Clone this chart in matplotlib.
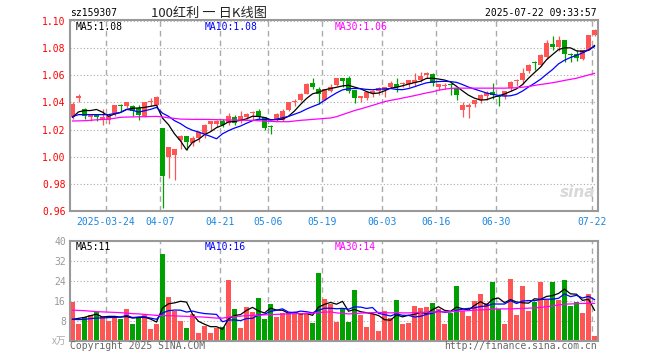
import numpy as np
import pandas as pd
import matplotlib
matplotlib.use('Agg')
import matplotlib.pyplot as plt
from matplotlib.transforms import blended_transform_factory

# ---------------- data ----------------
opens = [1.029, 1.043, 1.035, 1.029, 1.031, 1.028, 1.027, 1.032, 1.038, 1.037,
         1.0375, 1.036, 1.030, 1.040, 1.038, 1.021, 1.000, 1.001, 1.012, 1.015,
         1.010, 1.014, 1.017, 1.024, 1.024, 1.026, 1.025, 1.029, 1.026, 1.0295,
         1.032, 1.034, 1.029, 1.0227, 1.027, 1.027, 1.0345, 1.040, 1.042, 1.046,
         1.0545, 1.0497, 1.042, 1.0487, 1.0528, 1.058, 1.058, 1.049, 1.0435, 1.0435,
         1.0467, 1.0487, 1.0492, 1.0516, 1.0534, 1.0534, 1.0536, 1.0541, 1.0566, 1.060,
         1.061, 1.0514, 1.0519, 1.053, 1.0509, 1.0344, 1.0365, 1.0387, 1.0419, 1.0446,
         1.048, 1.0448, 1.0448, 1.0505, 1.0554, 1.0566, 1.0628, 1.0695, 1.0672, 1.0734,
         1.0832, 1.0807, 1.0862, 1.0751, 1.0756, 1.0721, 1.0788, 1.0898]
highs = [1.040, 1.046, 1.036, 1.031, 1.031, 1.035, 1.031, 1.038, 1.039, 1.040,
         1.038, 1.038, 1.040, 1.043, 1.045, 1.021, 1.007, 1.006, 1.016, 1.015,
         1.015, 1.019, 1.024, 1.026, 1.027, 1.028, 1.032, 1.031, 1.034, 1.0325,
         1.034, 1.035, 1.029, 1.023, 1.0325, 1.035, 1.040, 1.0425, 1.047, 1.054,
         1.058, 1.051, 1.050, 1.0534, 1.058, 1.058, 1.0597, 1.049, 1.045, 1.048,
         1.0492, 1.0511, 1.0511, 1.0558, 1.058, 1.0548, 1.0566, 1.0615, 1.0625, 1.0622,
         1.062, 1.0536, 1.0541, 1.0541, 1.0509, 1.040, 1.0394, 1.0419, 1.0463, 1.0485,
         1.0542, 1.0463, 1.0485, 1.0554, 1.0571, 1.0652, 1.068, 1.0702, 1.0756, 1.0857,
         1.0891, 1.0891, 1.0862, 1.0763, 1.0788, 1.0788, 1.090, 1.094]
lows = [1.028, 1.040, 1.028, 1.0265, 1.026, 1.023, 1.024, 1.030, 1.034, 1.036,
        1.030, 1.027, 1.029, 1.037, 1.037, 0.962, 0.984, 0.983, 1.006, 1.005,
        1.008, 1.011, 1.014, 1.019, 1.022, 1.022, 1.023, 1.023, 1.025, 1.028,
        1.027, 1.028, 1.020, 1.017, 1.026, 1.026, 1.034, 1.037, 1.041, 1.046,
        1.0497, 1.039, 1.0415, 1.048, 1.052, 1.0516, 1.0472, 1.0393, 1.040, 1.0418,
        1.0443, 1.0455, 1.0443, 1.0504, 1.048, 1.0516, 1.051, 1.0521, 1.0553, 1.0578,
        1.0521, 1.0492, 1.0497, 1.0455, 1.0418, 1.029, 1.0283, 1.0365, 1.0394, 1.0419,
        1.0424, 1.0375, 1.0428, 1.0487, 1.0522, 1.0537, 1.062, 1.0635, 1.0665, 1.0721,
        1.0783, 1.0775, 1.0694, 1.0694, 1.0702, 1.0714, 1.0785, 1.0891]
closes = [1.039, 1.045, 1.030, 1.031, 1.029, 1.029, 1.030, 1.038, 1.037, 1.040,
          1.0335, 1.031, 1.040, 1.041, 1.044, 0.986, 1.007, 1.006, 1.015, 1.011,
          1.014, 1.018, 1.023, 1.026, 1.026, 1.023, 1.030, 1.025, 1.030, 1.0315,
          1.0325, 1.029, 1.0215, 1.022, 1.0315, 1.034, 1.040, 1.041, 1.046, 1.0535,
          1.051, 1.046, 1.0497, 1.051, 1.058, 1.056, 1.0484, 1.043, 1.0447, 1.048,
          1.0484, 1.0504, 1.0511, 1.0546, 1.0511, 1.0541, 1.0565, 1.0566, 1.0598, 1.0615,
          1.0546, 1.0536, 1.0529, 1.0526, 1.0455, 1.0378, 1.0378, 1.0419, 1.0456, 1.0469,
          1.0456, 1.0443, 1.0485, 1.0549, 1.0566, 1.0615, 1.0677, 1.0692, 1.0751, 1.0837,
          1.0805, 1.0862, 1.0756, 1.0749, 1.0726, 1.0788, 1.0898, 1.0935]
volumes = [15.4, 6.6, 9.3, 10.1, 11.4, 9.7, 8.0, 9.3, 8.6, 12.6,
           6.6, 9.0, 10.1, 4.8, 6.6, 34.9, 17.4, 11.9, 8.0, 5.0,
           10.6, 3.1, 6.0, 3.1, 5.0, 5.3, 24.2, 12.6, 5.0, 13.4,
           11.4, 17.0, 8.6, 14.6, 9.6, 10.9, 10.9, 10.9, 10.9, 10.9,
           7.0, 27.3, 16.6, 14.7, 7.4, 12.7, 7.4, 20.2, 10.2, 5.4,
           10.6, 3.8, 11.9, 9.0, 16.2, 6.6, 7.0, 13.8, 13.0, 13.4,
           15.0, 12.7, 6.6, 11.0, 21.8, 11.8, 10.0, 15.9, 18.6, 15.0,
           23.4, 12.5, 6.6, 24.7, 10.2, 21.8, 11.8, 15.4, 23.4, 16.2,
           23.4, 16.2, 24.2, 13.8, 15.4, 11.0, 18.6, 2.0]
# 30-day averages (window reaches before the visible range)
ma30_price = [1.0263, 1.0264, 1.0265, 1.0268, 1.0272, 1.0274, 1.0277, 1.0283, 1.029, 1.0292,
              1.0293, 1.0294, 1.0295, 1.0296, 1.0297, 1.0293, 1.0287, 1.0282, 1.0277, 1.0276,
              1.0275, 1.0275, 1.0275, 1.0274, 1.0273, 1.0272, 1.027, 1.027, 1.0269, 1.0268,
              1.0268, 1.0265, 1.0262, 1.026, 1.0258, 1.0258, 1.0258, 1.0263, 1.0268, 1.0271,
              1.0275, 1.0278, 1.0282, 1.0285, 1.0295, 1.031, 1.0325, 1.034, 1.0352, 1.0365,
              1.0378, 1.0392, 1.0405, 1.0415, 1.0423, 1.0432, 1.0441, 1.045, 1.046, 1.047,
              1.0478, 1.049, 1.0497, 1.0503, 1.0505, 1.0505, 1.0505, 1.0505, 1.0505, 1.0505,
              1.0505, 1.0505, 1.0505, 1.0506, 1.0508, 1.0512, 1.0517, 1.0525, 1.0532, 1.0538,
              1.0545, 1.0553, 1.0562, 1.057, 1.0578, 1.059, 1.0602, 1.0614]
ma30_vol = [12.2, 12.1, 12.0, 11.8, 11.6, 11.5, 11.4, 11.3, 11.2, 11.0,
            10.8, 10.7, 10.5, 10.3, 10.1, 10.0, 10.0, 9.9, 9.8, 9.7,
            9.6, 9.5, 9.4, 9.2, 9.0, 9.0, 9.4, 9.6, 9.8, 10.0,
            10.1, 10.2, 10.3, 10.4, 10.5, 10.6, 10.7, 10.8, 10.8, 10.9,
            11.0, 11.2, 11.4, 11.5, 11.1, 10.9, 10.7, 10.8, 11.0, 11.1,
            11.2, 11.3, 11.2, 11.1, 11.2, 11.1, 11.1, 11.2, 11.3, 11.4,
            11.4, 11.5, 11.5, 11.6, 11.7, 11.9, 12.0, 12.2, 12.3, 12.4,
            12.6, 12.7, 12.7, 12.7, 12.8, 12.9, 13.0, 13.1, 13.3, 13.6,
            13.9, 14.3, 14.6, 14.7, 14.8, 14.9, 14.9, 14.9]
# leading moving-average values (need data before the window)
ma5_price_head = [1.029, 1.033, 1.034, 1.034]
ma10_price_head = [1.0295, 1.031, 1.031, 1.031, 1.031, 1.031, 1.031, 1.0318, 1.0326]
ma5_vol_head = [8.5, 8.9, 9.3, 10.0]
ma10_vol_head = [8.5, 8.4, 8.5, 8.8, 9.0, 9.1, 9.2, 9.3, 9.4]

date_labels = ['2025-03-24', '04-07', '04-21', '05-06', '05-19', '06-03', '06-16', '06-30', '07-22']
date_index = [6, 15, 25, 33, 42, 52, 61, 71, 87]
price_ticks = [0.96, 0.98, 1.00, 1.02, 1.04, 1.06, 1.08, 1.10]
vol_ticks = [8, 16, 24, 32, 40]
price_legend = ['MA5:1.08', 'MA10:1.08', 'MA30:1.06']
vol_legend = ['MA5:11', 'MA10:16', 'MA30:14']
code_text = 'sz159307'
title_text = '100红利 一 日K线图'
time_text = '2025-07-22 09:33:57'

# ---------------- derived ----------------
o = np.array(opens); h = np.array(highs); l = np.array(lows); c = np.array(closes)
v = np.array(volumes)
n = len(c)
x = np.arange(n)
ma5 = pd.Series(c).rolling(5).mean().to_numpy(); ma5[:4] = ma5_price_head
ma10 = pd.Series(c).rolling(10).mean().to_numpy(); ma10[:9] = ma10_price_head
vma5 = pd.Series(v).rolling(5).mean().to_numpy(); vma5[:4] = ma5_vol_head
vma10 = pd.Series(v).rolling(10).mean().to_numpy(); vma10[:9] = ma10_vol_head

RED = '#ff5555'
GREEN = '#00a000'
GRID = '#aaaaaa'
FRAME = '#999999'
MONO = 'DejaVu Sans Mono'
colors = np.where(c >= o, RED, GREEN)

W, H = 660, 360
def fx(px): return px / W
def fy(py): return 1 - py / H

fig = plt.figure(figsize=(6.6, 3.6), dpi=100)
fig.patch.set_facecolor('white')
axp = fig.add_axes([fx(70), fy(211), 528 / W, 191 / H])
axv = fig.add_axes([fx(70), fy(340.5), 528 / W, 100 / H])

xlim = (-0.42, n - 0.42)
grid_off = -0.4

for ax in (axp, axv):
    ax.set_xlim(*xlim)
    for s in ax.spines.values():
        s.set_color(FRAME)
        s.set_linewidth(1.5)
    ax.set_xticks([])
    ax.tick_params(axis='y', length=0, pad=3)
    for di in date_index:
        ax.axvline(di + grid_off, color=GRID, lw=1.0, ls=(0, (4, 3)), zorder=0.5)

# price panel
axp.set_ylim(0.96, 1.1007)
for t in price_ticks:
    axp.axhline(t, color=GRID, lw=0.8, ls=(0, (1, 2)), zorder=0.5)
axp.set_yticks(price_ticks)
axp.set_yticklabels([f'{t:.2f}' for t in price_ticks], color='red', fontsize=7, family=MONO)

axp.vlines(x, l, h, colors=colors, lw=0.9, zorder=2)
body_bottom = np.minimum(o, c)
body_h = np.maximum(np.abs(c - o), 0.0006)
axp.bar(x, body_h, bottom=body_bottom, width=0.8, color=colors, linewidth=0, zorder=2)
axp.plot(x, ma5, color='black', lw=0.9, zorder=3)
axp.plot(x, ma10, color='#0000ff', lw=0.9, zorder=3)
axp.plot(x, ma30_price, color='#ff00ff', lw=0.9, zorder=3)

trans = blended_transform_factory(axp.transData, axp.transAxes)
for di, lab in zip(date_index, date_labels):
    axp.text(di + grid_off, -10.7 / 191, lab, transform=trans, ha='center', va='center',
             color='#1a87e0', fontsize=7, family=MONO)

axp.text(0.01, 0.965, price_legend[0], transform=axp.transAxes, color='black', fontsize=7, family=MONO, va='center')
axp.text((205 - 70) / 528, 0.965, price_legend[1], transform=axp.transAxes, color='#0000ff', fontsize=7, family=MONO, va='center')
axp.text((335 - 70) / 528, 0.965, price_legend[2], transform=axp.transAxes, color='#ff00ff', fontsize=7, family=MONO, va='center')
axp.text(0.995, 0.06, 'sina', transform=axp.transAxes, ha='right', va='bottom', color='#d8d8d8',
         fontsize=11, fontweight='bold', style='italic', family='DejaVu Sans', zorder=1)

# volume panel
axv.set_ylim(0, 40.2)
for t in vol_ticks[:-1]:
    axv.axhline(t, color=GRID, lw=0.8, ls=(0, (1, 2)), zorder=0.5)
axv.set_yticks(vol_ticks)
axv.set_yticklabels([str(t) for t in vol_ticks], color='#999999', fontsize=7, family=MONO)
axv.bar(x, v, width=0.8, color=colors, linewidth=0, zorder=2)
axv.plot(x, vma5, color='black', lw=0.9, zorder=3)
axv.plot(x, vma10, color='#0000ff', lw=0.9, zorder=3)
axv.plot(x, ma30_vol, color='#ff00ff', lw=0.9, zorder=3)
axv.text(0.01, 0.93, vol_legend[0], transform=axv.transAxes, color='black', fontsize=7, family=MONO, va='center')
axv.text((205 - 70) / 528, 0.93, vol_legend[1], transform=axv.transAxes, color='#0000ff', fontsize=7, family=MONO, va='center')
axv.text((335 - 70) / 528, 0.93, vol_legend[2], transform=axv.transAxes, color='#ff00ff', fontsize=7, family=MONO, va='center')

# header / footer texts
fig.text(fx(70), fy(13), code_text, fontsize=7, family=MONO, color='black', va='center', ha='left')
fig.text(fx(209), fy(13), title_text, fontsize=9.5, family=['Noto Sans CJK SC', 'DejaVu Sans'],
         color='#222222', va='center', ha='center')
fig.text(fx(597), fy(13), time_text, fontsize=7, family=MONO, color='black', va='center', ha='right')
fig.text(fx(66), fy(341), 'x万', fontsize=7, family=['Noto Sans CJK SC', 'DejaVu Sans'],
         color='#aaaaaa', va='center', ha='right')
fig.text(fx(70), fy(346), 'Copyright 2025 SINA.COM', fontsize=7, family=MONO, color='#666666', va='center', ha='left')
fig.text(fx(597), fy(346), 'http://finance.sina.com.cn', fontsize=7, family=MONO, color='#666666', va='center', ha='right')

fig.savefig('out.png', dpi=100, facecolor='white')
